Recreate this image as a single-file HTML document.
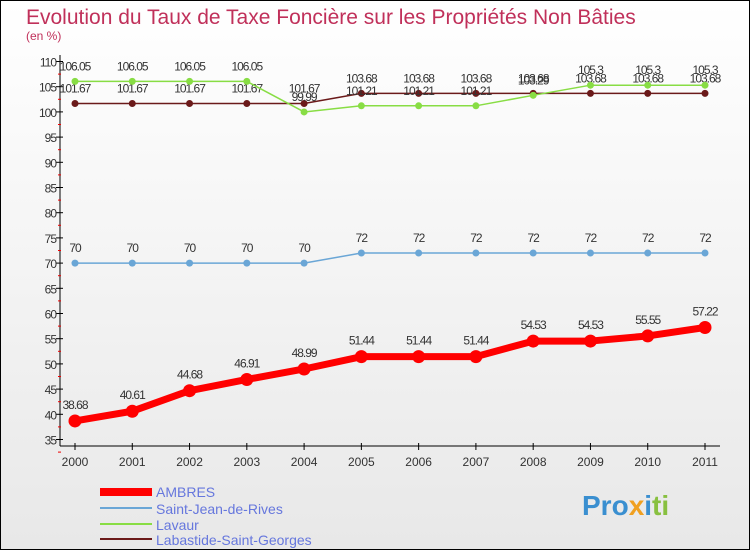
<!DOCTYPE html>
<html><head><meta charset="utf-8"><style>
body{margin:0;width:750px;height:550px;overflow:hidden;font-family:"Liberation Sans",sans-serif}
svg{display:block}
text{font-family:"Liberation Sans",sans-serif}
</style></head><body>
<svg id="chart" width="750" height="550">
<defs><linearGradient id="bg" x1="0" y1="0" x2="0" y2="1"><stop offset="0" stop-color="#ffffff"/><stop offset="1" stop-color="#e8e8e8"/></linearGradient></defs>
<rect x="0.5" y="0.5" width="749" height="549" fill="url(#bg)" stroke="#000"/>
<text x="26" y="24" font-size="21" fill="#c0305a">Evolution du Taux de Taxe Foncière sur les Propriétés Non Bâties</text>
<text x="26" y="40" font-size="12" fill="#c0305a">(en %)</text>
<g id="axes"></g><g id="series"></g>
<g>
<rect x="100" y="488" width="52" height="8" fill="#ff0000"/>
<text x="156" y="497" font-size="14" fill="#6677dd">AMBRES</text>
<rect x="100" y="507" width="52" height="2" fill="#6aa6d6"/>
<text x="156" y="514" font-size="14" fill="#6677dd">Saint-Jean-de-Rives</text>
<rect x="100" y="523" width="52" height="2" fill="#88dd44"/>
<text x="156" y="530" font-size="14" fill="#6677dd">Lavaur</text>
<rect x="100" y="538" width="52" height="2" fill="#6b1a1a"/>
<text x="156" y="545" font-size="14" fill="#6677dd">Labastide-Saint-Georges</text>
</g>
<text x="582" y="515" font-size="28" font-weight="bold"><tspan fill="#3a8fd0">Pro</tspan><tspan fill="#f0a020">x</tspan><tspan fill="#3a8fd0">i</tspan><tspan fill="#88c040">ti</tspan></text>
</svg>
<script>
const years=["2000","2001","2002","2003","2004","2005","2006","2007","2008","2009","2010","2011"];
const yTicks=[35,40,45,50,55,60,65,70,75,80,85,90,95,100,105,110];
const ambres=[38.68,40.61,44.68,46.91,48.99,51.44,51.44,51.44,54.53,54.53,55.55,57.22];
const saintJean=[70,70,70,70,70,72,72,72,72,72,72,72];
const lavaur=[106.05,106.05,106.05,106.05,99.99,101.21,101.21,101.21,103.29,105.3,105.3,105.3];
const labastide=[101.67,101.67,101.67,101.67,101.67,103.68,103.68,103.68,103.68,103.68,103.68,103.68];
const NS="http://www.w3.org/2000/svg";
function X(i){return 75+i*(630/11);}
function Y(v){return 61.5+(110-v)*5.04;}
function mk(t,a,p){const e=document.createElementNS(NS,t);for(const k in a)e.setAttribute(k,a[k]);p.appendChild(e);return e;}
const ax=document.getElementById('axes');
const yl=mk('line',{x1:60,y1:55,x2:60,y2:446,stroke:'#000'},ax);


const xl=mk('line',{x1:60,y1:446,x2:720,y2:446,stroke:'#000'},ax);


yTicks.forEach(v=>{const y=Y(v);
mk('line',{x1:56,y1:y,x2:63,y2:y,stroke:'#000'},ax);
mk('line',{x1:58,y1:y+12.6,x2:61,y2:y+12.6,stroke:'#e00'},ax);
const t=mk('text',{x:56,y:y+5,'font-size':12,'text-anchor':'end',fill:'#333','letter-spacing':'-1'},ax);t.textContent=v;

});
years.forEach((yr,i)=>{const x=X(i);
mk('line',{x1:x,y1:443,x2:x,y2:450,stroke:'#000'},ax);
const t=mk('text',{x:x,y:466,'font-size':12,'text-anchor':'middle',fill:'#333'},ax);t.textContent=yr;

});
const sg=document.getElementById('series');
function draw(name,vals,color,lw,r,dy){
const g=mk('g',{},sg);


const pl=mk('polyline',{points:vals.map((v,i)=>X(i)+','+Y(v)).join(' '),fill:'none',stroke:color,'stroke-width':lw,'stroke-linejoin':'round'},g);


vals.forEach((v,i)=>{const c=mk('circle',{cx:X(i),cy:Y(v),r:r,fill:color},g);


const t=mk('text',{x:X(i),y:Y(v)+dy,'font-size':12,'text-anchor':'middle',fill:'#333','letter-spacing':'-1'},g);t.textContent=v;

});}
draw('saint-jean',saintJean,'#6aa6d6',1.5,3.5,-11);
draw('labastide',labastide,'#6b1a1a',1.5,3.5,-11);
draw('lavaur',lavaur,'#88dd44',1.5,3.5,-11);
draw('ambres',ambres,'#ff0000',7,6.5,-12);
</script>
</body></html>
